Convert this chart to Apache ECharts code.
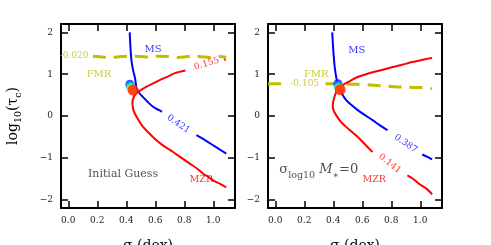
<!DOCTYPE html>
<html><head><meta charset="utf-8">
<script src="https://cdn.jsdelivr.net/npm/echarts@6/dist/echarts.min.js"></script>
<style>html,body{margin:0;padding:0;background:#fff}#c{width:491px;height:245px}</style>
</head><body><div id="c"></div>
<script>
// ---- data ----
const xTicks = [0.0, 0.2, 0.4, 0.6, 0.8, 1.0];
const yTicks = [-2, -1, 0, 1, 2];

// Left panel (Initial Guess)
const msLeftA = [[0.424,2.0],[0.428,1.7],[0.436,1.33],[0.448,1.08],[0.459,0.93],[0.466,0.78],[0.47,0.66],[0.49,0.55],[0.516,0.45],[0.55,0.33],[0.585,0.22],[0.62,0.15],[0.647,0.10]];
const msLeftB = [[0.884,-0.46],[0.94,-0.57],[0.999,-0.70],[1.04,-0.79],[1.09,-0.90]];
const mzrLeftA = [[0.808,1.09],[0.74,1.03],[0.677,0.93],[0.63,0.86],[0.585,0.78],[0.54,0.70],[0.493,0.60],[0.464,0.52],[0.448,0.42],[0.443,0.30],[0.448,0.16],[0.459,0.06],[0.485,-0.10],[0.516,-0.26],[0.56,-0.42],[0.608,-0.58],[0.66,-0.72],[0.723,-0.86],[0.78,-1.0],[0.838,-1.14],[0.89,-1.26],[0.930,-1.38],[0.97,-1.46],[0.999,-1.54],[1.05,-1.63],[1.09,-1.71]];
const mzrLeftB = [[1.075,1.36],[1.085,1.33]];
const fmrLeft = [[0.17,1.43],[0.24,1.41],[0.3,1.40],[0.36,1.42],[0.42,1.43],[0.5,1.42],[0.56,1.41],[0.62,1.43],[0.7,1.42],[0.76,1.40],[0.82,1.42],[0.88,1.43],[0.94,1.41],[1.0,1.40],[1.05,1.42],[1.09,1.40]];
const dotsLeft = [[0.425,0.76],[0.428,0.73],[0.432,0.70],[0.436,0.66],[0.44,0.63],[0.447,0.62]];

// Right panel (sigma_logM* = 0)
const msRightA = [[0.393,2.0],[0.397,1.75],[0.402,1.49],[0.407,1.28],[0.413,1.09],[0.425,0.85],[0.443,0.65],[0.465,0.50],[0.489,0.38],[0.53,0.25],[0.569,0.14],[0.62,0.02],[0.671,-0.10],[0.72,-0.22],[0.774,-0.34]];
const msRightB = [[1.014,-0.92],[1.05,-0.98],[1.082,-1.04]];
const mzrRightA = [[1.082,1.39],[1.01,1.34],[0.945,1.29],[0.87,1.22],[0.786,1.15],[0.70,1.07],[0.626,1.0],[0.56,0.92],[0.512,0.83],[0.47,0.75],[0.443,0.68],[0.42,0.57],[0.408,0.45],[0.399,0.33],[0.397,0.22],[0.405,0.11],[0.420,0.02],[0.45,-0.13],[0.489,-0.26],[0.535,-0.40],[0.580,-0.54],[0.625,-0.70],[0.671,-0.86]];
const mzrRightB = [[0.911,-1.42],[0.95,-1.50],[0.991,-1.62],[1.04,-1.73],[1.082,-1.87]];
const fmrRightA = [[-0.05,0.77],[0.05,0.77]];
const fmrRightB = [[0.347,0.77],[0.42,0.77],[0.5,0.76],[0.58,0.76],[0.66,0.74],[0.74,0.72],[0.82,0.70],[0.9,0.69],[0.98,0.68],[1.04,0.68],[1.082,0.65]];
const dotsRight = [[0.432,0.77],[0.434,0.73],[0.437,0.69],[0.44,0.66],[0.444,0.63],[0.448,0.63]];

const dotColors = ['#1a1aff','#0090ff','#20e0d0','#90ff60','#ffd000','#ff2000'];

// ---- chart ----
const BLUE='#0000ff', RED='#ff0000', OLIVE='#bfbf00';
const FONT='DejaVu Serif';

function xAx(gi, pos, lbl, name){
  return {type:'value', gridIndex:gi, position:pos, min:-0.05, max:1.15,
    axisLine:{show:true,onZero:false,lineStyle:{color:'#000',width:2}},
    axisTick:{show:true,inside:true,length:7,lineStyle:{color:'#000',width:1.5},customValues:xTicks},
    axisLabel:{show:lbl,customValues:xTicks,margin:8,fontFamily:FONT,fontSize:9,color:'#222',formatter:v=>v.toFixed(1)},
    splitLine:{show:false},
    name: name||'', nameLocation:'middle', nameGap:31,
    nameTextStyle:{fontFamily:FONT,fontSize:14,color:'#000'}};
}
function yAx(gi, pos, lbl){
  return {type:'value', gridIndex:gi, position:pos, min:-2.2, max:2.2,
    axisLine:{show:true,onZero:false,lineStyle:{color:'#000',width:2}},
    axisTick:{show:true,inside:true,length:7,lineStyle:{color:'#000',width:1.5},customValues:yTicks},
    axisLabel:{show:lbl,customValues:yTicks,margin:8,fontFamily:FONT,fontSize:9,color:'#222',formatter:v=>String(v).replace('-','\u2212')},
    splitLine:{show:false}};
}
function line(xi, data, color, width, dash){
  return {type:'line', xAxisIndex:xi, yAxisIndex:xi, data, showSymbol:false, symbol:'none', smooth:0.3,
    lineStyle:{color, width, type: dash||'solid'}, z:3, silent:true, animation:false};
}
function dots(xi, data){
  return {type:'scatter', xAxisIndex:xi, yAxisIndex:xi, z:5, animation:false, silent:true,
    data: data.map((p,i)=>({value:p, symbolSize: i===data.length-1?11:9, itemStyle:{color:dotColors[i]}}))};
}
function txt(xi, items){
  return {type:'scatter', xAxisIndex:xi, yAxisIndex:xi, symbolSize:0, z:6, animation:false, silent:true,
    data: items.map(it=>({value:[it.x,it.y], label:{show:true, position:'inside', formatter:it.t, rotate:it.r||0,
      color:it.c, fontFamily:FONT, fontSize:it.s||9, rich:it.rich}}))};
}

const yNameRich = {
  a:{fontFamily:FONT,fontSize:14,color:'#000',lineHeight:18,verticalAlign:'top'},
  s:{fontFamily:FONT,fontSize:9.5,color:'#000',lineHeight:12,verticalAlign:'bottom'}
};
const sigRich = {
  a:{fontFamily:FONT,fontSize:13,color:'#222',lineHeight:17,verticalAlign:'top'},
  i:{fontFamily:FONT,fontSize:13,fontStyle:'italic',color:'#222',lineHeight:17,verticalAlign:'top'},
  s:{fontFamily:FONT,fontSize:9.5,color:'#222',lineHeight:12,verticalAlign:'bottom'}
};

const chart = echarts.init(document.getElementById('c'), null, {renderer:'canvas'});
const yAxes = [yAx(0,'left',true), yAx(1,'left',true), yAx(0,'right',false), yAx(1,'right',false)];
Object.assign(yAxes[0], {name:'{a|log}{s|10}{a|(τ}{s|c}{a|)}', nameLocation:'middle', nameGap:37, nameRotate:90,
  nameTextStyle:{rich:yNameRich}});
chart.setOption({
  animation:false,
  backgroundColor:'#fff',
  grid:[{left:61,top:24,width:174,height:184,containLabel:false,outerBoundsMode:'none'},
        {left:268,top:24,width:174,height:184,containLabel:false,outerBoundsMode:'none'}],
  xAxis:[xAx(0,'bottom',true,'σ (dex)'), xAx(1,'bottom',true,'σ (dex)'), xAx(0,'top',false), xAx(1,'top',false)],
  yAxis:yAxes,
  series:[
    line(0, fmrLeft, OLIVE, 3, [13,8]),
    line(0, msLeftA, BLUE, 2), line(0, msLeftB, BLUE, 2),
    line(0, mzrLeftA, RED, 2), line(0, mzrLeftB, RED, 1.5),
    dots(0, dotsLeft),
    txt(0, [
      {t:'MS', x:0.585, y:1.59, c:BLUE, s:10},
      {t:'FMR', x:0.212, y:1.0, c:OLIVE, s:10},
      {t:'-0.020', x:0.04, y:1.45, c:OLIVE, s:9},
      {t:'0.155', x:0.955, y:1.25, c:RED, s:9, r:17},
      {t:'0.421', x:0.76, y:-0.19, c:BLUE, s:9, r:-34},
      {t:'MZR', x:0.918, y:-1.51, c:RED, s:9.5},
      {t:'Initial Guess', x:0.378, y:-1.39, c:'#222', s:11}
    ]),
    line(1, fmrRightA, OLIVE, 3, [13,8]), line(1, fmrRightB, OLIVE, 3, [13,8]),
    line(1, msRightA, BLUE, 2), line(1, msRightB, BLUE, 2),
    line(1, mzrRightA, RED, 2), line(1, mzrRightB, RED, 2),
    dots(1, dotsRight),
    txt(1, [
      {t:'MS', x:0.562, y:1.57, c:BLUE, s:10},
      {t:'FMR', x:0.283, y:1.0, c:OLIVE, s:10},
      {t:'-0.105', x:0.203, y:0.775, c:OLIVE, s:9},
      {t:'0.387', x:0.90, y:-0.66, c:BLUE, s:9, r:-35},
      {t:'0.141', x:0.79, y:-1.14, c:RED, s:9, r:-38},
      {t:'MZR', x:0.683, y:-1.51, c:RED, s:9.5},
      {t:'{a|σ}{s|log}{s|10}{i| M}{s|∗}{a|=0}', x:0.30, y:-1.33, c:'#222', s:13, rich:sigRich}
    ])
  ]
});
</script></body></html>
